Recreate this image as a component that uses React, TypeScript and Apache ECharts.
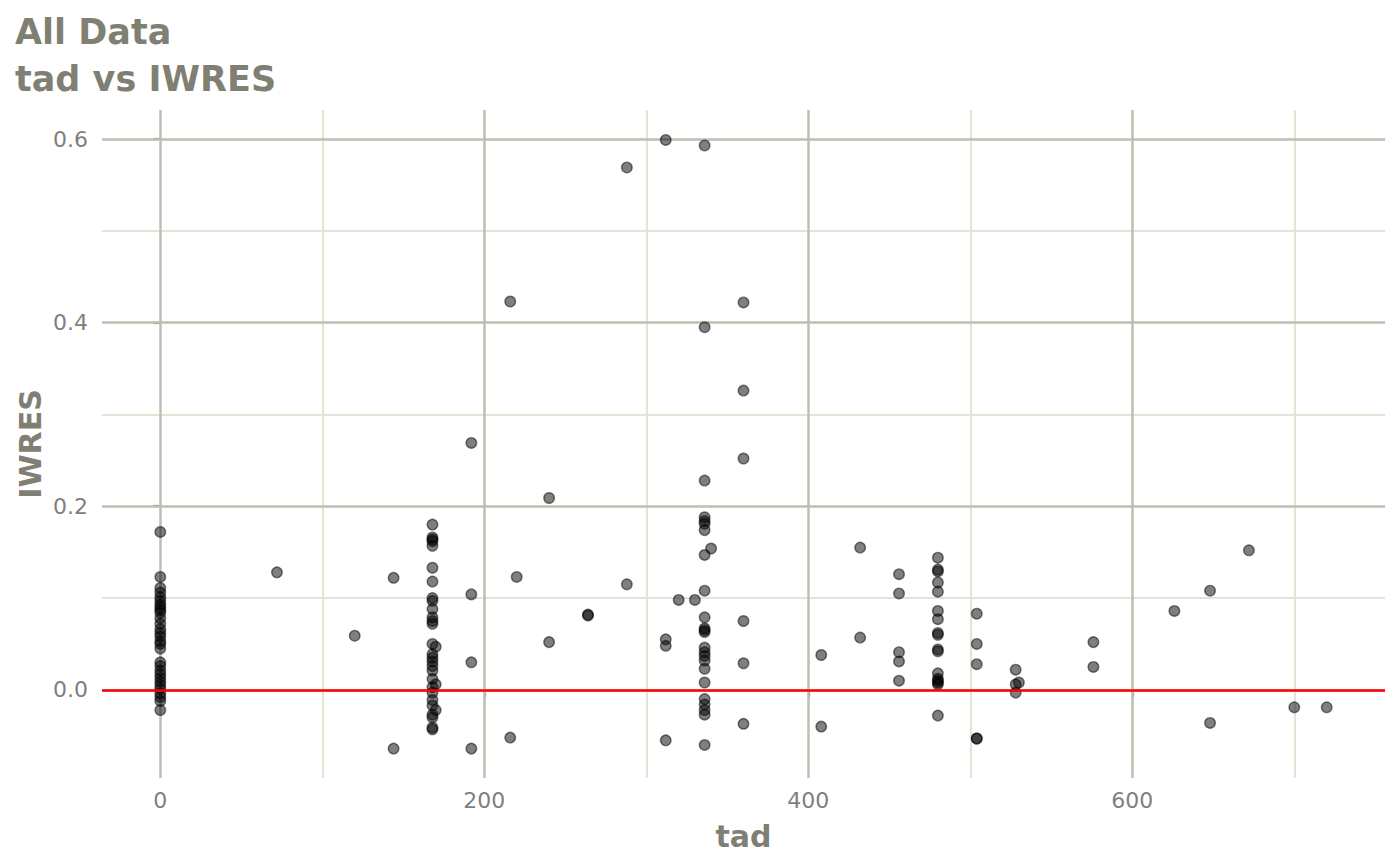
import React, { useEffect, useRef } from "react";
import * as echarts from "echarts";

// Time after dose (tad) groups and IWRES values observed at each
const tadTimes = [0, 72, 120, 144, 168, 170, 192, 216, 220, 240, 264, 288, 312, 320, 330, 336, 340, 360, 408, 432, 456, 480, 504, 528, 530, 576, 626, 648, 672, 700, 720];

const iwresByTime = [
  [0.172, 0.123, 0.111, 0.106, 0.101, 0.097, 0.093, 0.09, 0.087, 0.084, 0.078, 0.072, 0.066, 0.062, 0.058, 0.053, 0.05, 0.045, 0.03, 0.026, 0.021, 0.017, 0.013, 0.009, 0.005, 0.001, -0.004, -0.008, -0.012, -0.022],
  [0.128],
  [0.059],
  [0.122, -0.064],
  [0.18, 0.166, 0.164, 0.162, 0.157, 0.133, 0.118, 0.1, 0.097, 0.088, 0.079, 0.075, 0.072, 0.05, 0.039, 0.035, 0.031, 0.026, 0.021, 0.012, 0.003, -0.003, -0.011, -0.017, -0.027, -0.03, -0.041, -0.043],
  [0.047, 0.006, -0.022],
  [0.269, 0.104, 0.03, -0.064],
  [0.423, -0.052],
  [0.123],
  [0.209, 0.052],
  [0.082, 0.081],
  [0.569, 0.115],
  [0.599, 0.055, 0.048, -0.055],
  [0.098],
  [0.098],
  [0.593, 0.395, 0.228, 0.188, 0.184, 0.181, 0.174, 0.147, 0.108, 0.079, 0.067, 0.065, 0.063, 0.046, 0.041, 0.037, 0.032, 0.023, 0.008, -0.01, -0.016, -0.022, -0.027, -0.06],
  [0.154],
  [0.422, 0.326, 0.252, 0.075, 0.029, -0.037],
  [0.038, -0.04],
  [0.155, 0.057],
  [0.126, 0.105, 0.041, 0.031, 0.01],
  [0.144, 0.131, 0.129, 0.117, 0.107, 0.086, 0.077, 0.062, 0.06, 0.044, 0.042, 0.018, 0.012, 0.01, 0.008, 0.006, -0.028],
  [0.083, 0.05, 0.028, -0.053, -0.053],
  [0.022, 0.006, -0.003],
  [0.008],
  [0.052, 0.025],
  [0.086],
  [0.108, -0.036],
  [0.152],
  [-0.019],
  [-0.019],
];

const xMajor = [0, 200, 400, 600];
const xMinor = [100, 300, 500, 700];
const yMajor = [0, 0.2, 0.4, 0.6];
const yMinor = [0.1, 0.3, 0.5];

const titleLines = ["All Data", "tad vs IWRES"];
const xTitle = "tad";
const yTitle = "IWRES";

const FONT = '"DejaVu Sans", "Liberation Sans", sans-serif';
const TITLE_COLOR = "#7f7f74";
const TICK_COLOR = "#7f7f7f";
const MAJOR_GRID = "#bebeb2";
const MINOR_GRID = "#e4e4d6";

export default function App() {
  const ref = useRef<HTMLDivElement>(null);

  useEffect(() => {
    if (!ref.current) return;
    const chart = echarts.init(ref.current, null, { renderer: "svg" });

    const points: number[][] = [];
    tadTimes.forEach((t, i) => {
      iwresByTime[i].forEach((v) => points.push([t, v]));
    });

    const gridLines = [
      ...xMinor.map((v) => ({ xAxis: v, lineStyle: { color: MINOR_GRID, width: 2.2, type: "solid" } })),
      ...yMinor.map((v) => ({ yAxis: v, lineStyle: { color: MINOR_GRID, width: 2.2, type: "solid" } })),
      ...xMajor.map((v) => ({ xAxis: v, lineStyle: { color: MAJOR_GRID, width: 2.5, type: "solid" } })),
      ...yMajor.map((v) => ({ yAxis: v, lineStyle: { color: MAJOR_GRID, width: 2.5, type: "solid" } })),
    ];

    chart.setOption({
      animation: false,
      backgroundColor: "#ffffff",
      grid: { left: 102, right: 15, top: 110, bottom: 87, containLabel: false },
      xAxis: {
        type: "value",
        min: -36,
        max: 756,
        splitLine: { show: false },
        axisLine: { show: false },
        axisTick: { show: true, customValues: xMajor, length: 7, lineStyle: { color: TICK_COLOR, width: 2.2 } },
        axisLabel: {
          customValues: xMajor,
          fontSize: 22,
          fontFamily: FONT,
          color: TICK_COLOR,
          margin: 11,
          formatter: (v: number) => String(v),
        },
      },
      yAxis: {
        type: "value",
        min: -0.096,
        max: 0.6316,
        splitLine: { show: false },
        axisLine: { show: false },
        axisTick: { show: true, customValues: yMajor, length: 7, lineStyle: { color: TICK_COLOR, width: 2.2 } },
        axisLabel: {
          customValues: yMajor,
          fontSize: 22,
          fontFamily: FONT,
          color: TICK_COLOR,
          margin: 14,
          formatter: (v: number) => v.toFixed(1),
        },
      },
      graphic: [
        {
          type: "text",
          x: 15,
          y: 32,
          style: { text: titleLines[0], font: `bold 35px ${FONT}`, fill: TITLE_COLOR, align: "left", verticalAlign: "middle" },
        },
        {
          type: "text",
          x: 15,
          y: 79,
          style: { text: titleLines[1], font: `bold 35px ${FONT}`, fill: TITLE_COLOR, align: "left", verticalAlign: "middle" },
        },
        {
          type: "text",
          x: 743.5,
          y: 836,
          style: { text: xTitle, font: `bold 30px ${FONT}`, fill: TITLE_COLOR, align: "center", verticalAlign: "middle" },
        },
        {
          type: "text",
          x: 30,
          y: 444,
          rotation: Math.PI / 2,
          style: { text: yTitle, font: `bold 30px ${FONT}`, fill: TITLE_COLOR, align: "center", verticalAlign: "middle" },
        },
      ],
      series: [
        {
          type: "line",
          data: [],
          z: 1,
          silent: true,
          markLine: {
            silent: true,
            z: 1,
            symbol: ["none", "none"],
            label: { show: false },
            emphasis: { disabled: true },
            data: gridLines,
          },
        },
        {
          type: "scatter",
          z: 3,
          data: points,
          symbol: "circle",
          symbolSize: 10.5,
          itemStyle: { color: "rgba(0,0,0,0.5)", borderColor: "rgba(0,0,0,0.5)", borderWidth: 1.4, opacity: 1 },
          emphasis: { disabled: true },
        },
        {
          type: "line",
          data: [],
          z: 5,
          silent: true,
          markLine: {
            silent: true,
            z: 6,
            symbol: ["none", "none"],
            label: { show: false },
            emphasis: { disabled: true },
            data: [{ yAxis: 0, lineStyle: { color: "#ff0000", width: 2.7, type: "solid" } }],
          },
        },
      ],
    });

    return () => chart.dispose();
  }, []);

  return (
    <div
      ref={ref}
      style={{ position: "fixed", left: 0, top: 0, width: 1400, height: 865, background: "#fff" }}
    />
  );
}
